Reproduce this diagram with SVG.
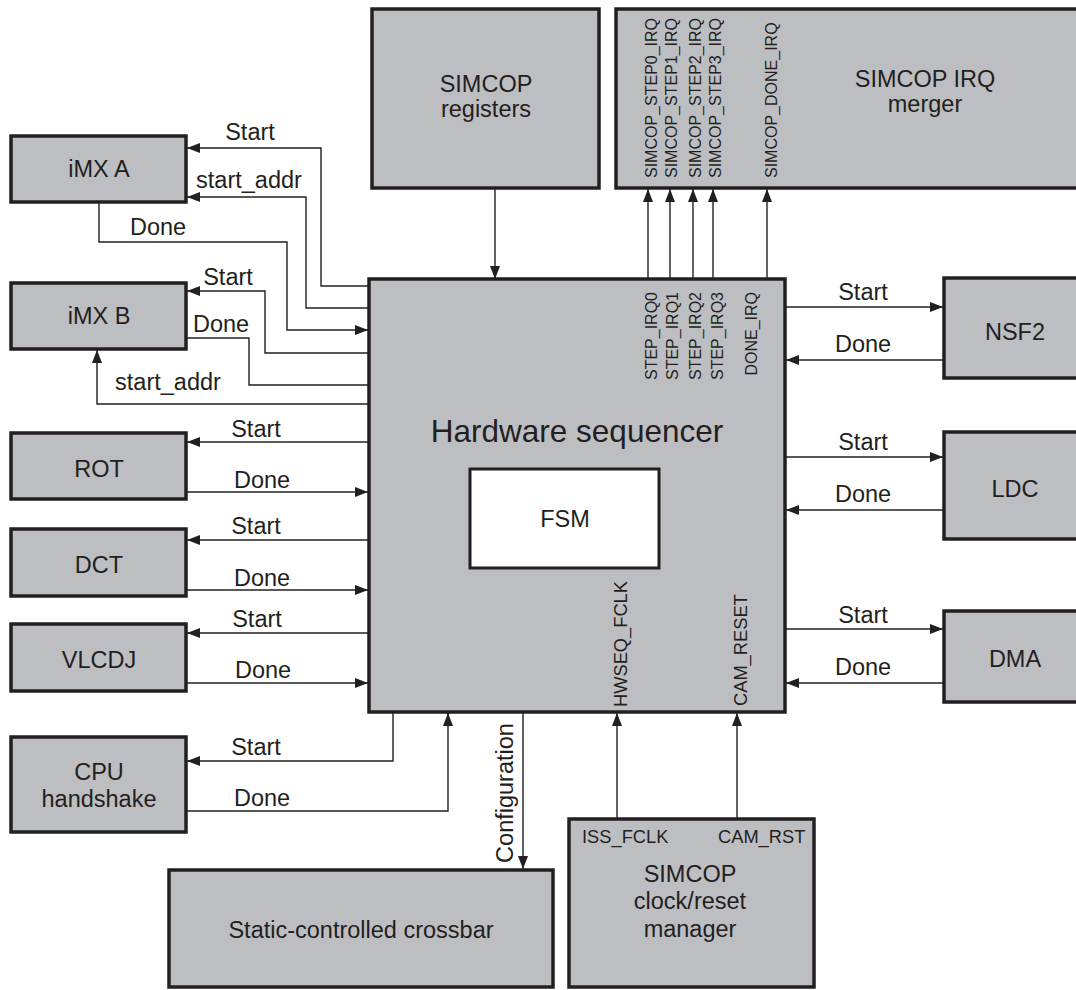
<svg xmlns="http://www.w3.org/2000/svg" width="1076" height="990" viewBox="0 0 1076 990">
<style>
.box{fill:#bdbec2;stroke:#231f20;stroke-width:3.5}
.fsm{fill:#ffffff;stroke:#231f20;stroke-width:3}
.ln{fill:none;stroke:#231f20;stroke-width:1.4}
.t{font-family:"Liberation Sans",Arial,sans-serif;font-size:23.5px;fill:#231f20;text-anchor:middle}
.big{font-family:"Liberation Sans",Arial,sans-serif;font-size:31.5px;fill:#231f20;text-anchor:middle}
.s{font-family:"Liberation Sans",Arial,sans-serif;font-size:16px;fill:#231f20}
.m{font-family:"Liberation Sans",Arial,sans-serif;font-size:18.3px;fill:#231f20}
.l{font-family:"Liberation Sans",Arial,sans-serif;font-size:23.5px;fill:#231f20;text-anchor:middle}
</style>
<defs>
<marker id="ah" markerWidth="13" markerHeight="10" refX="13" refY="5" orient="auto" markerUnits="userSpaceOnUse">
<path d="M0,0 L13,5 L0,10 z" fill="#231f20"/>
</marker>
</defs>
<rect width="1076" height="990" fill="#ffffff"/>

<g id="connectors">
<path class="ln" d="M495,188 V279" marker-end="url(#ah)"/>
<path class="ln" d="M648,279 V189" marker-end="url(#ah)"/>
<path class="ln" d="M670,279 V189" marker-end="url(#ah)"/>
<path class="ln" d="M693,279 V189" marker-end="url(#ah)"/>
<path class="ln" d="M713,279 V189" marker-end="url(#ah)"/>
<path class="ln" d="M767,279 V189" marker-end="url(#ah)"/>
<path class="ln" d="M369,286 H321 V148 H187" marker-end="url(#ah)"/>
<text class="l" x="250" y="140">Start</text>
<path class="ln" d="M369,308 H306 V197 H187" marker-end="url(#ah)"/>
<text class="l" x="249" y="188">start_addr</text>
<path class="ln" d="M99,202 V242 H287 V330 H368" marker-end="url(#ah)"/>
<text class="l" x="158" y="235">Done</text>
<path class="ln" d="M369,353 H265 V291 H187" marker-end="url(#ah)"/>
<text class="l" x="228" y="285">Start</text>
<path class="ln" d="M186,338 H249 V385 H369"/>
<text class="l" x="221" y="332">Done</text>
<path class="ln" d="M369,404 H97 V350" marker-end="url(#ah)"/>
<text class="l" x="168" y="390">start_addr</text>
<path class="ln" d="M369,442 H187" marker-end="url(#ah)"/>
<text class="l" x="256" y="437">Start</text>
<path class="ln" d="M186,492 H368" marker-end="url(#ah)"/>
<text class="l" x="262" y="488">Done</text>
<path class="ln" d="M369,540 H187" marker-end="url(#ah)"/>
<text class="l" x="256" y="534">Start</text>
<path class="ln" d="M186,590 H368" marker-end="url(#ah)"/>
<text class="l" x="262" y="586">Done</text>
<path class="ln" d="M369,633 H187" marker-end="url(#ah)"/>
<text class="l" x="257" y="627">Start</text>
<path class="ln" d="M186,683 H368" marker-end="url(#ah)"/>
<text class="l" x="263" y="678">Done</text>
<path class="ln" d="M393,712 V761 H187" marker-end="url(#ah)"/>
<text class="l" x="256" y="755">Start</text>
<path class="ln" d="M186,811 H448 V713" marker-end="url(#ah)"/>
<text class="l" x="262" y="806">Done</text>
<path class="ln" d="M523,712 V869" marker-end="url(#ah)"/>
<text class="t" transform="translate(513,793) rotate(-90)">Configuration</text>
<path class="ln" d="M617,819 V713" marker-end="url(#ah)"/>
<path class="ln" d="M737,819 V713" marker-end="url(#ah)"/>
<path class="ln" d="M785,307 H943" marker-end="url(#ah)"/>
<text class="l" x="863" y="300">Start</text>
<path class="ln" d="M944,360 H786" marker-end="url(#ah)"/>
<text class="l" x="863" y="352">Done</text>
<path class="ln" d="M785,457 H943" marker-end="url(#ah)"/>
<text class="l" x="863" y="450">Start</text>
<path class="ln" d="M944,510 H786" marker-end="url(#ah)"/>
<text class="l" x="863" y="502">Done</text>
<path class="ln" d="M785,629 H943" marker-end="url(#ah)"/>
<text class="l" x="863" y="623">Start</text>
<path class="ln" d="M944,683 H786" marker-end="url(#ah)"/>
<text class="l" x="863" y="675">Done</text>
</g>

<g id="simcop-registers">
<rect class="box" x="372" y="9" width="227" height="179"/>
<text class="t" x="486" y="92">SIMCOP</text>
<text class="t" x="486" y="117">registers</text>
</g>

<g id="irq-merger">
<rect class="box" x="616" y="9" width="470" height="179"/>
<text class="t" x="925" y="87">SIMCOP IRQ</text>
<text class="t" x="925" y="112">merger</text>
<text class="s" transform="translate(657,178) rotate(-90)">SIMCOP_STEP0_IRQ</text>
<text class="s" transform="translate(677,178) rotate(-90)">SIMCOP_STEP1_IRQ</text>
<text class="s" transform="translate(701,178) rotate(-90)">SIMCOP_STEP2_IRQ</text>
<text class="s" transform="translate(721,178) rotate(-90)">SIMCOP_STEP3_IRQ</text>
<text class="s" transform="translate(777,178) rotate(-90)">SIMCOP_DONE_IRQ</text>
</g>

<g id="hardware-sequencer">
<rect class="box" x="369" y="279" width="416" height="433"/>
<text class="big" x="577" y="442">Hardware sequencer</text>
<text class="s" text-anchor="end" transform="translate(657,292) rotate(-90)">STEP_IRQ0</text>
<text class="s" text-anchor="end" transform="translate(678,292) rotate(-90)">STEP_IRQ1</text>
<text class="s" text-anchor="end" transform="translate(701,292) rotate(-90)">STEP_IRQ2</text>
<text class="s" text-anchor="end" transform="translate(723,292) rotate(-90)">STEP_IRQ3</text>
<text class="s" text-anchor="end" transform="translate(757,292) rotate(-90)">DONE_IRQ</text>
<text class="m" transform="translate(627,707) rotate(-90)">HWSEQ_FCLK</text>
<text class="m" transform="translate(747,706) rotate(-90)">CAM_RESET</text>
</g>

<g id="fsm">
<rect class="fsm" x="470" y="469" width="189" height="99"/>
<text class="t" x="565" y="527">FSM</text>
</g>

<g id="imx-a">
<rect class="box" x="11" y="136" width="175" height="66"/>
<text class="t" x="99" y="177">iMX A</text>
</g>
<g id="imx-b">
<rect class="box" x="11" y="283" width="175" height="66"/>
<text class="t" x="99" y="324">iMX B</text>
</g>
<g id="rot">
<rect class="box" x="11" y="433" width="175" height="66"/>
<text class="t" x="99" y="477">ROT</text>
</g>
<g id="dct">
<rect class="box" x="11" y="529" width="175" height="67"/>
<text class="t" x="99" y="573">DCT</text>
</g>
<g id="vlcdj">
<rect class="box" x="11" y="624" width="175" height="67"/>
<text class="t" x="99" y="668">VLCDJ</text>
</g>
<g id="cpu-handshake">
<rect class="box" x="11" y="737" width="175" height="95"/>
<text class="t" x="99" y="780">CPU</text>
<text class="t" x="99" y="807">handshake</text>
</g>
<g id="crossbar">
<rect class="box" x="169" y="870" width="384" height="117"/>
<text class="t" x="361" y="938">Static-controlled crossbar</text>
</g>
<g id="clock-reset-manager">
<rect class="box" x="569" y="819" width="245" height="168"/>
<text class="m" x="582" y="843">ISS_FCLK</text>
<text class="m" x="718" y="843">CAM_RST</text>
<text class="t" x="690" y="882">SIMCOP</text>
<text class="t" x="690" y="909">clock/reset</text>
<text class="t" x="690" y="937">manager</text>
</g>
<g id="nsf2">
<rect class="box" x="944" y="278" width="140" height="100"/>
<text class="t" x="1015" y="340">NSF2</text>
</g>
<g id="ldc">
<rect class="box" x="944" y="432" width="140" height="107"/>
<text class="t" x="1015" y="497">LDC</text>
</g>
<g id="dma">
<rect class="box" x="944" y="611" width="140" height="91"/>
<text class="t" x="1015" y="667">DMA</text>
</g>
</svg>
